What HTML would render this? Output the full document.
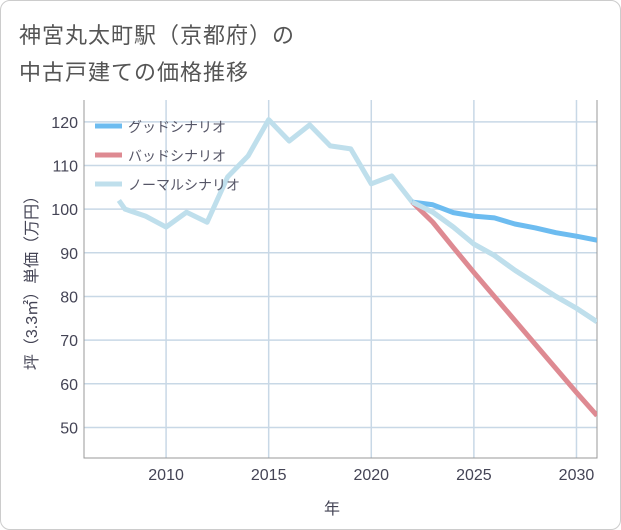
<!DOCTYPE html>
<html><head><meta charset="utf-8">
<style>
body{margin:0;background:#fff;}
#wrap{position:relative;width:619px;height:528px;border:1px solid #ccc;border-radius:10px;overflow:hidden;background:#fff;font-family:"Liberation Sans","Noto Sans CJK JP",sans-serif;}
.t{position:absolute;left:18px;font-size:22px;color:#555;letter-spacing:1px;}
svg text{font-family:"Liberation Sans","Noto Sans CJK JP",sans-serif;}
</style></head><body>
<div id="wrap">
<div class="t" style="top:17px">神宮丸太町駅（京都府）の</div>
<div class="t" style="top:54px">中古戸建ての価格推移</div>
<svg id="c" width="621" height="530" style="position:absolute;left:-1px;top:-1px"></svg>
</div>
<script>
const normalYears=[2007.7,2008,2009,2010,2011,2012,2013,2014,2015,2016,2017,2018,2019,2020,2021,2022,2023,2024,2025,2026,2027,2028,2029,2030,2031];
const normalVals=[102,100,98.4,95.9,99.3,97,107.4,112.2,120.5,115.6,119.3,114.5,113.8,105.8,107.6,101.6,99.3,95.9,92,89.4,86,83,80,77.3,74.2];
const futureYears=[2022,2023,2024,2025,2026,2027,2028,2029,2030,2031];
const goodVals=[101.6,101,99.2,98.4,98,96.6,95.7,94.6,93.8,92.9];
const badVals=[101.6,97,91.2,85.5,80,74.5,69,63.5,58,52.7];
const xTicks=[2010,2015,2020,2025,2030];
const yTicks=[50,60,70,80,90,100,110,120];
const legendLabels=["グッドシナリオ","バッドシナリオ","ノーマルシナリオ"];
const L=84,R=597,T=100,B=458,x0=2006,x1=2031,y0=43,y1=125;
const X=v=>L+(v-x0)/(x1-x0)*(R-L);
const Y=v=>B-(v-y0)/(y1-y0)*(B-T);
const svg=document.getElementById('c');
const NS='http://www.w3.org/2000/svg';
function mk(tag,a,p){const e=document.createElementNS(NS,tag);for(const k in a)e.setAttribute(k,a[k]);(p||svg).appendChild(e);return e;}
xTicks.forEach(v=>{const l=mk('line',{x1:X(v),x2:X(v),y1:T,y2:B,stroke:'#c8d8e6','stroke-width':1.5});

});
yTicks.forEach(v=>{const l=mk('line',{x1:L,x2:R,y1:Y(v),y2:Y(v),stroke:'#c8d8e6','stroke-width':1.5});


const t=mk('text',{x:L-6,y:Y(v)+6,'text-anchor':'end','font-size':16,fill:'#445'});t.textContent=v;

});
xTicks.forEach(v=>{const t=mk('text',{x:X(v),y:B+22,'text-anchor':'middle','font-size':16,fill:'#445'});t.textContent=v;

});
const ax=mk('path',{d:`M${L},${T}V${B}H${R}V${T}`,fill:'none',stroke:'#999','stroke-width':1});


const cp=mk('clipPath',{id:'cl'});mk('rect',{x:L,y:T,width:R-L,height:B-T},cp);
function line(xs,vs,col,name){const p=mk('polyline',{points:xs.map((x,i)=>X(x)+','+Y(vs[i])).join(' '),fill:'none',stroke:col,'stroke-width':5,'stroke-linejoin':'round','clip-path':'url(#cl)'});

}
line(normalYears,normalVals,'#bfdfec','normal-scenario-line');
line(futureYears,badVals,'#de8a92','bad-scenario-line');
line(futureYears,goodVals,'#6dbcf0','good-scenario-line');
line(futureYears,normalVals.slice(15),'#bfdfec','normal-scenario-future-line');
const lc=['#6dbcf0','#de8a92','#bfdfec'];
legendLabels.forEach((s,i)=>{const y=126+i*29;
const l=mk('line',{x1:95,x2:122,y1:y,y2:y,stroke:lc[i],'stroke-width':5});


const t=mk('text',{x:128,y:y+6,'font-size':14,fill:'#556'});t.textContent=s;

});
const yt=mk('text',{transform:'translate(37,279) rotate(-90)','text-anchor':'middle','font-size':16,fill:'#445'});yt.textContent='坪（3.3㎡）単価（万円）';


const xt=mk('text',{x:332,y:514,'text-anchor':'middle','font-size':16,fill:'#445'});xt.textContent='年';


</script>
</body></html>
